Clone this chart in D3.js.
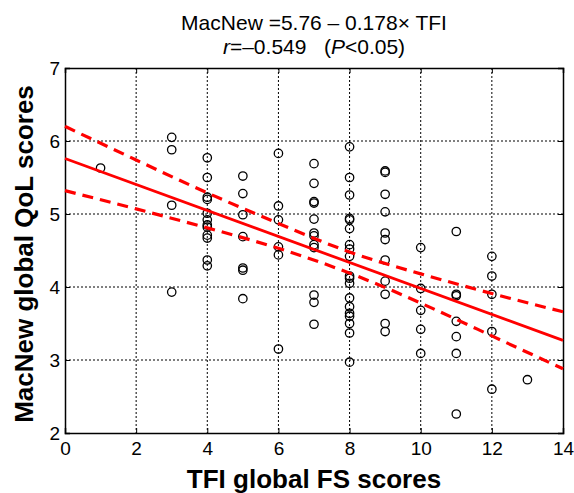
<!DOCTYPE html>
<html><head><meta charset="utf-8">
<script src="https://cdn.jsdelivr.net/npm/d3@7"></script>
<style>
html,body{margin:0;padding:0;background:#fff;}
svg{display:block;font-family:"Liberation Sans",Arial,sans-serif;}
</style></head>
<body><svg id="chart" width="574" height="493"></svg>
<script>
// TFI global FS score (x) and MacNew global QoL scores observed at each x
const tfiScores = [1, 3, 4, 5, 6, 7, 8, 9, 10, 11, 12, 13];
const qolByTfi = [
  [5.63],
  [6.05, 5.88, 5.12, 3.93],
  [5.77, 5.50, 5.23, 5.20, 5.01, 4.92, 4.85, 4.82, 4.71, 4.67, 4.37, 4.29],
  [5.52, 5.28, 4.99, 4.69, 4.26, 4.23, 3.84],
  [5.83, 5.11, 4.92, 4.55, 4.44, 3.15],
  [5.69, 5.42, 5.17, 5.15, 4.93, 4.74, 4.70, 4.58, 4.54, 3.89, 3.79, 3.49],
  [5.92, 5.50, 5.26, 4.94, 4.92, 4.80, 4.58, 4.52, 4.42, 4.15, 4.12, 4.05, 3.85, 3.73, 3.64, 3.60, 3.50, 3.37, 2.97],
  [5.59, 5.57, 5.27, 5.03, 4.74, 4.65, 4.37, 4.08, 3.90, 3.50, 3.39],
  [4.54, 3.98, 3.68, 3.42, 3.09],
  [4.76, 3.90, 3.88, 3.53, 3.32, 3.09, 2.26],
  [4.42, 4.15, 3.90, 3.39, 2.60],
  [2.73]
];
// regression line (from the stated equation)
const intercept = 5.76;
const slope = -0.178;
// confidence band
const bandX     = [0, 2, 4, 6, 8, 10, 12, 14];
const bandUpper = [6.20, 5.74, 5.29, 4.87, 4.48, 4.18, 3.91, 3.66];
const bandLower = [5.32, 5.07, 4.81, 4.53, 4.19, 3.78, 3.33, 2.88];
const xTicks = [0, 2, 4, 6, 8, 10, 12, 14];
const yTicks = [2, 3, 4, 5, 6, 7];

const svg = d3.select("#chart");
const L = 65, R = 563, T = 68, B = 433;
const x = d3.scaleLinear().domain([0, 14]).range([L, R]);
const y = d3.scaleLinear().domain([2, 7]).range([B, T]);

// gridlines
const grid = svg.append("g");
grid.selectAll(".gx").data(xTicks.slice(1, -1)).enter().append("line")
  .attr("x1", d => x(d)).attr("x2", d => x(d)).attr("y1", T).attr("y2", B)
  .attr("stroke", "#000").attr("stroke-width", 1).attr("stroke-dasharray", "2,2");
grid.selectAll(".gy").data(yTicks.slice(1, -1)).enter().append("line")
  .attr("y1", d => y(d)).attr("y2", d => y(d)).attr("x1", L).attr("x2", R)
  .attr("stroke", "#000").attr("stroke-width", 1).attr("stroke-dasharray", "2,2");

// axes (inward ticks on all sides)
const fs = 19;
const ax = svg.append("g").attr("transform", `translate(0,${B})`)
  .call(d3.axisBottom(x).tickValues(xTicks).tickSize(-5).tickPadding(9).tickFormat(d3.format("d")));
const axT = svg.append("g").attr("transform", `translate(0,${T})`)
  .call(d3.axisTop(x).tickValues(xTicks).tickSize(-5).tickFormat(""));
const ay = svg.append("g").attr("transform", `translate(${L},0)`)
  .call(d3.axisLeft(y).tickValues(yTicks).tickSize(-5).tickPadding(5).tickFormat(d3.format("d")));
const ayR = svg.append("g").attr("transform", `translate(${R},0)`)
  .call(d3.axisRight(y).tickValues(yTicks).tickSize(-5).tickFormat(""));
[ax, axT, ay, ayR].forEach(g => {
  g.select(".domain").attr("stroke", "#000").attr("stroke-width", 1.5);
  g.selectAll(".tick line").attr("stroke", "#000").attr("stroke-width", 1);
  g.selectAll("text").attr("font-size", fs).attr("fill", "#000")
    .attr("font-family", "'Liberation Sans',Arial,sans-serif");
});
ax.selectAll(".tick text").attr("dy", "0.71em");

// points
const pts = [];
tfiScores.forEach((t, i) => qolByTfi[i].forEach(v => pts.push([t, v])));
svg.append("g").selectAll("circle").data(pts).enter().append("circle")
  .attr("cx", d => x(d[0])).attr("cy", d => y(d[1])).attr("r", 4.2)
  .attr("fill", "none").attr("stroke", "#000").attr("stroke-width", 1.3);

// regression line
svg.append("line")
  .attr("x1", x(0)).attr("y1", y(intercept))
  .attr("x2", x(14)).attr("y2", y(intercept + slope * 14))
  .attr("stroke", "#ff0000").attr("stroke-width", 2.8);

// confidence bands
const bandLine = d3.line().x((d, i) => x(bandX[i])).y(d => y(d)).curve(d3.curveNatural);
[bandUpper, bandLower].forEach(arr => {
  svg.append("path").attr("d", bandLine(arr))
    .attr("fill", "none").attr("stroke", "#ff0000").attr("stroke-width", 3.2)
    .attr("stroke-dasharray", "11,7");
});

// titles
const cx = (L + R) / 2;
svg.append("text").attr("x", cx).attr("y", 29.5).attr("text-anchor", "middle")
  .attr("font-size", 21).text("MacNew =5.76 \u2013 0.178\u00d7 TFI");
const t2 = svg.append("text").attr("x", cx).attr("y", 54).attr("text-anchor", "middle")
  .attr("font-size", 21);
t2.append("tspan").attr("font-style", "italic").text("r");
t2.append("tspan").text("=\u20130.549\u00a0\u00a0\u00a0(");
t2.append("tspan").attr("font-style", "italic").text("P");
t2.append("tspan").text("<0.05)");

svg.append("text").attr("x", cx).attr("y", 488).attr("text-anchor", "middle")
  .attr("font-size", 26).attr("font-weight", "bold").text("TFI global FS scores");
svg.append("text").attr("transform", `translate(33,254) rotate(-90)`)
  .attr("text-anchor", "middle").attr("font-size", 26).attr("font-weight", "bold")
  .text("MacNew global QoL scores");
</script></body></html>
